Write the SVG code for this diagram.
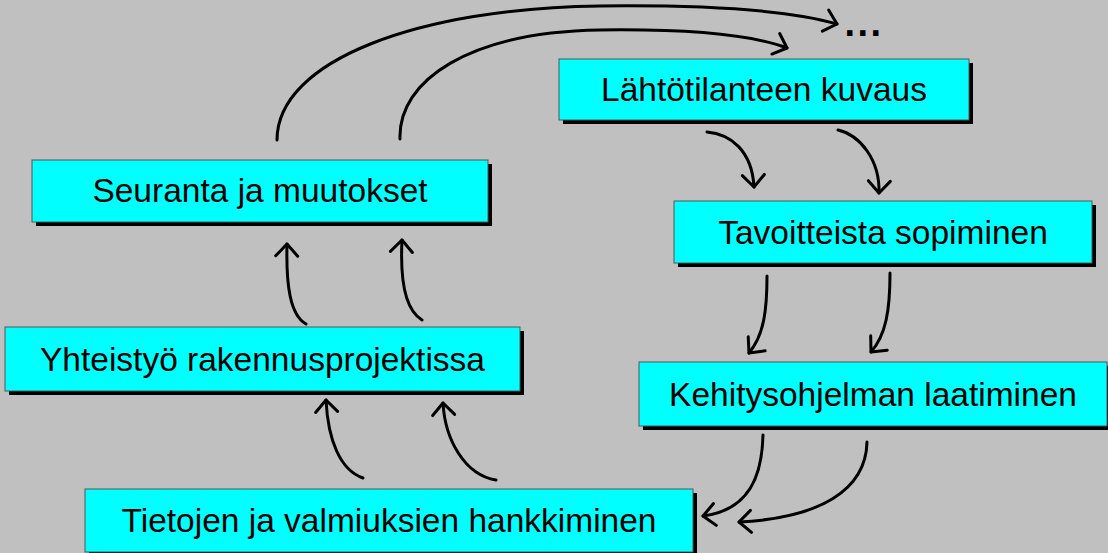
<svg xmlns="http://www.w3.org/2000/svg" width="1108" height="553" viewBox="0 0 1108 553">
<defs>
<style>
.shadow{fill:#000000}
.box{fill:#00FFFF;stroke:#555555;stroke-width:1}
.lbl{font-family:"Liberation Sans",Arial,sans-serif;font-size:33.5px;fill:#000000;text-anchor:middle}
.c{fill:none;stroke:#000000;stroke-width:3;stroke-linecap:round;marker-end:url(#ah)}
</style>
<marker id="ah" markerUnits="userSpaceOnUse" viewBox="-16 -14 20 28" refX="0" refY="0" markerWidth="20" markerHeight="28" orient="auto">
<path d="M-12,-11 L0,0 L-12,11" fill="none" stroke="#000000" stroke-width="3" stroke-linecap="round" stroke-linejoin="round"/>
</marker>
</defs>
<rect x="0" y="0" width="1108" height="553" fill="#C0C0C0"/>

<g id="connectors">
<path class="c" d="M277,140 C277,60 420,8 600,6 C700,5 790,10 837,24"/>
<path class="c" d="M400,139 C398,80 470,32 600,30 C680,29 750,34 787,48"/>
<path class="c" d="M707,132 C730,134 752,150 754,187"/>
<path class="c" d="M838,130 C860,135 880,160 879,193"/>
<path class="c" d="M767,276 C767,310 764,335 749,353"/>
<path class="c" d="M890,273 C890,310 886,335 871,352"/>
<path class="c" d="M763,435 C762,475 750,510 703,516"/>
<path class="c" d="M867,442 C866,490 820,518 739,522"/>
<path class="c" d="M363,478 C340,470 328,440 326,400"/>
<path class="c" d="M496,480 C465,475 445,440 443,403"/>
<path class="c" d="M306,324 C290,315 286,285 287,244"/>
<path class="c" d="M422,320 C405,310 400,280 402,240"/>
</g>

<g id="node-lahtotilanne">
<rect class="shadow" x="563" y="63" width="410" height="61"/>
<rect class="box" x="559" y="59" width="410" height="61"/>
<text class="lbl" x="764" y="101">Lähtötilanteen kuvaus</text>
</g>

<g id="node-tavoitteet">
<rect class="shadow" x="678" y="205" width="418" height="62"/>
<rect class="box" x="674" y="201" width="418" height="62"/>
<text class="lbl" x="883" y="243.5">Tavoitteista sopiminen</text>
</g>

<g id="node-kehitysohjelma">
<rect class="shadow" x="643" y="366" width="468" height="64"/>
<rect class="box" x="639" y="362" width="468" height="64"/>
<text class="lbl" x="873" y="405.5">Kehitysohjelman laatiminen</text>
</g>

<g id="node-tietojen">
<rect class="shadow" x="89" y="493" width="608" height="63"/>
<rect class="box" x="85" y="489" width="608" height="63"/>
<text class="lbl" x="389" y="532">Tietojen ja valmiuksien hankkiminen</text>
</g>

<g id="node-yhteistyo">
<rect class="shadow" x="9" y="331" width="515" height="64"/>
<rect class="box" x="5" y="327" width="515" height="64"/>
<text class="lbl" x="262.5" y="370.5">Yhteistyö rakennusprojektissa</text>
</g>

<g id="node-seuranta">
<rect class="shadow" x="36" y="164" width="456" height="62"/>
<rect class="box" x="32" y="160" width="456" height="62"/>
<text class="lbl" x="260" y="202">Seuranta ja muutokset</text>
</g>

<g id="node-ellipsis">
<text x="844.5" y="35.5" font-family="Liberation Sans, Arial, sans-serif" font-size="38" font-weight="bold" letter-spacing="2.4" fill="#000000">...</text>
</g>
</svg>
